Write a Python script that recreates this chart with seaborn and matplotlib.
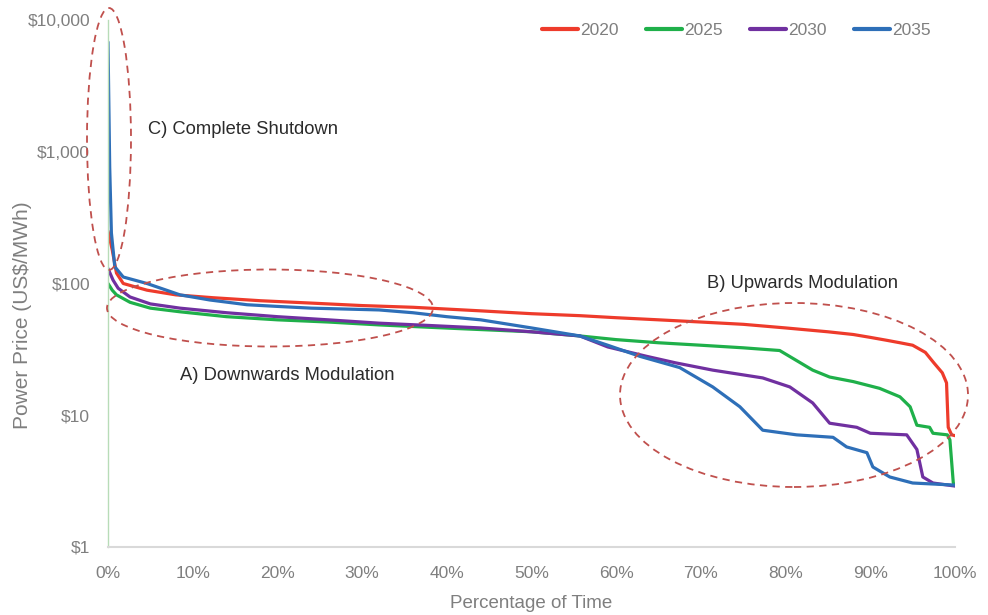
import numpy as np
import pandas as pd
import matplotlib
matplotlib.use('Agg')
import matplotlib.pyplot as plt
from matplotlib.patches import Ellipse
from matplotlib.ticker import FixedLocator, FuncFormatter
import seaborn as sns

sns.set_theme(style='white')
plt.rcParams['font.family'] = ['Liberation Sans', 'DejaVu Sans']

# price duration curves, x in % of time, y in US$/MWh
x_2020 = [0, 0.5, 1, 1.8, 4.6, 8, 12.4, 18, 24, 30, 36, 44, 50, 55.7, 60, 65, 70, 75,
          80, 85, 88, 90, 92, 93.5, 95, 96.5, 97.5, 98.5, 99, 99.2, 99.6, 100]
y_2020 = [250, 180, 120, 100, 89, 82, 78, 74, 71, 68, 66, 62, 59, 57, 55, 53, 51, 49,
          46, 43, 41, 39, 37, 35.5, 34, 30, 25, 21, 17.6, 8.1, 7.1, 7.0]

x_2025 = [0, 0.5, 1, 2.6, 5, 8.5, 14, 20, 26, 32, 38, 44, 50, 55.7, 60, 65, 70, 75,
          79.3, 81.3, 83.2, 85.2, 88, 91.1, 93.5, 94.7, 95.5, 97, 97.4, 99.1, 99.4, 99.8, 100]
y_2025 = [100, 89, 82, 72, 65, 61, 56, 53, 51, 48.5, 46.5, 44.7, 43, 40, 37.5, 35.5, 34, 32.5,
          31, 26, 22, 19.5, 18, 16, 13.8, 11.6, 8.4, 8.1, 7.3, 7.1, 6.5, 3.06, 2.95]

x_2030 = [0, 0.6, 1.2, 2.6, 5, 8.5, 14, 20, 26, 32, 38, 44, 50, 55.7, 59, 63.6, 67, 71.4,
          77.3, 80.5, 83.2, 85.2, 88.4, 90, 94.3, 95.5, 96.2, 97.4, 100]
y_2030 = [130, 106, 92, 79, 70, 65, 60, 56, 53, 50, 48, 46, 43, 40, 33, 28, 25, 22,
          19.2, 16.4, 12.4, 8.7, 8.1, 7.3, 7.1, 5.5, 3.4, 3.06, 2.9]

x_2035 = [0, 0.2, 0.4, 0.8, 1.8, 4.6, 8.5, 12, 16.4, 20, 24, 28, 32, 36, 40, 44, 50, 55.7,
          59, 62.8, 67.5, 71.4, 74.6, 77.3, 81.3, 85.6, 87.2, 89.6, 90.3, 92.3, 95, 100]
y_2035 = [6800, 768, 242, 134, 112, 100, 82, 75, 69, 67, 65, 64, 63, 60, 56, 53, 46, 40,
          34, 28, 23, 16.4, 11.6, 7.7, 7.1, 6.8, 5.75, 5.2, 4.05, 3.4, 3.06, 2.95]

years = ['2020', '2025', '2030', '2035']
colors = ['#ee3b2b', '#1fb04a', '#7030a0', '#2e6fb8']

frames = []
for yr, xs, ys in zip(years, [x_2020, x_2025, x_2030, x_2035], [y_2020, y_2025, y_2030, y_2035]):
    frames.append(pd.DataFrame({'pct': xs, 'price': ys, 'year': yr}))
df = pd.concat(frames, ignore_index=True)

W, H = 988, 615
fig = plt.figure(figsize=(9.88, 6.15), dpi=100)
ax = fig.add_axes([108 / W, 1 - 547 / H, (955 - 108) / W, (547 - 20) / H])

sns.lineplot(data=df, x='pct', y='price', hue='year', palette=colors,
             estimator=None, sort=False, linewidth=2.3, ax=ax)

ax.set_yscale('log')
ax.set_ylim(1, 10000)
ax.set_xlim(0, 100)
ax.yaxis.set_major_locator(FixedLocator([1, 10, 100, 1000, 10000]))
ax.yaxis.set_minor_locator(FixedLocator([]))
ax.yaxis.set_major_formatter(FuncFormatter(lambda v, p: '${:,.0f}'.format(v)))
ax.set_xticks(np.arange(0, 101, 10))
ax.xaxis.set_major_formatter(FuncFormatter(lambda v, p: '{:.0f}%'.format(v)))
ax.tick_params(axis='both', colors='#7f7f7f', labelsize=12.5, length=0)
ax.tick_params(axis='y', pad=13)
ax.tick_params(axis='x', pad=14)

ax.set_xlabel('Percentage of Time', color='#7f7f7f', fontsize=13.5, labelpad=10)
ax.set_ylabel('Power Price (US$/MWh)', color='#7f7f7f', fontsize=15)
ax.yaxis.set_label_coords(23 / W, 1 - 315 / H, transform=fig.transFigure)
ax.yaxis.label.set_va('center')

for s in ['top', 'right']:
    ax.spines[s].set_visible(False)
ax.spines['left'].set_color('#b8dcb8')
ax.spines['left'].set_linewidth(1)
ax.spines['bottom'].set_color('#d9d9d9')
ax.spines['bottom'].set_linewidth(1.5)

leg = ax.legend(loc='center left', ncol=4, frameon=False, fontsize=12.5,
                handlelength=2.1, handletextpad=0.12, columnspacing=1.55,
                borderaxespad=0, bbox_to_anchor=(535 / W, 1 - 30 / H),
                bbox_transform=fig.transFigure)
for t in leg.get_texts():
    t.set_color('#7f7f7f')
for ln in leg.get_lines():
    ln.set_linewidth(3)

# dashed ellipses, placed in figure pixels
def ell(cx, cy, w, h):
    e = Ellipse((cx / W, 1 - cy / H), w / W, h / H, transform=fig.transFigure,
                fill=False, edgecolor='#c0504d', linestyle=(0, (4, 3)), linewidth=1.3)
    fig.add_artist(e)

ell(109, 139, 44, 262)
ell(270, 308, 326, 77)
ell(794, 395, 348, 184)

fig.text(148 / W, 1 - 130 / H, 'C) Complete Shutdown', fontsize=13.2, color='#2b2b2b', va='center')
fig.text(180 / W, 1 - 375 / H, 'A) Downwards Modulation', fontsize=13.2, color='#2b2b2b', va='center')
fig.text(707 / W, 1 - 283 / H, 'B) Upwards Modulation', fontsize=13.2, color='#2b2b2b', va='center')

fig.savefig('out.png', dpi=100)
